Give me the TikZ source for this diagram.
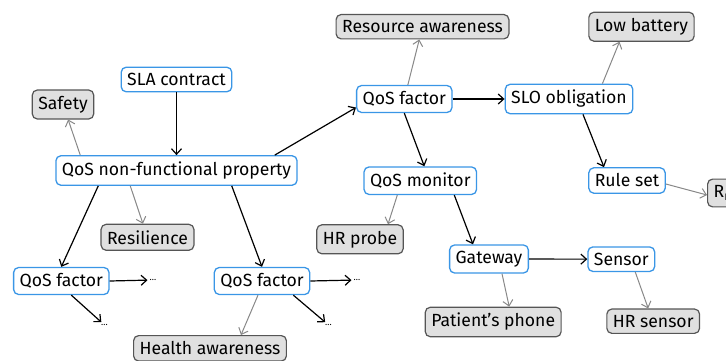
\documentclass[tikz,border=0pt]{standalone}
\usepackage{fontspec}
\setmainfont{Fira Sans}
\usepackage{tikz}
\usetikzlibrary{arrows.meta}
\definecolor{cBlue}{HTML}{3A96E6}
\definecolor{cAttr}{HTML}{E0E0E0}
\definecolor{cDark}{HTML}{555555}
\definecolor{cEdge}{HTML}{888888}
\tikzset{
  concept/.style={rounded corners=5pt, draw=cBlue, line width=1.3pt, fill=white,
                  text=black, font=\fontsize{17.6}{21}\selectfont, inner sep=6pt},
  attr/.style={rounded corners=5pt, draw=cDark, line width=1.2pt, fill=cAttr,
               text=black, font=\fontsize{17.6}{21}\selectfont, inner sep=6pt},
  etc/.style={font=\fontsize{9}{10}\selectfont, inner sep=2pt},
  flow/.style={-{Straight Barb[length=5.5pt,width=10pt]}, line width=1.2pt, draw=black},
  soft/.style={-{Straight Barb[length=5.5pt,width=10pt]}, line width=1pt, draw=cEdge},
}
\begin{document}
\begin{tikzpicture}[x=1pt, y=-1pt]
  \useasboundingbox (0,0) rectangle (726,361);
  \clip (0,0) rectangle (726,361);
  % concepts
  \node[concept] (sla) at (176.5,79.5) {SLA contract};
  \node[concept] (nfp) at (176.5,170.5) {QoS non-functional property};
  \node[concept] (qfa) at (61.3,281) {QoS factor};
  \node[concept] (qfb) at (262,281) {QoS factor};
  \node[concept] (qf1) at (404.3,99) {QoS factor};
  \node[concept] (slo) at (569,99) {SLO obligation};
  \node[concept] (qm) at (420.3,180.7) {QoS monitor};
  \node[concept] (rule) at (627,180.5) {Rule set};
  \node[concept] (gw) at (489,259) {Gateway};
  \node[concept] (sensor) at (621.3,259.2) {Sensor};
  % attributes
  \node[attr] (safety) at (63,104.5) {Safety};
  \node[attr] (resil) at (147.5,237.3) {Resilience};
  \node[attr, anchor=north] (health) at (210,335) {Health awareness};
  \node[attr] (res) at (422.5,26.7) {Resource awareness};
  \node[attr] (low) at (641.5,26.7) {Low battery};
  \node[attr, anchor=west] (rmin) at (707,193) {R\textsubscript{min}};
  \node[attr] (hrp) at (360,239.3) {HR probe};
  \node[attr] (phone) at (493.2,322) {Patient’s phone};
  \node[attr] (hrs) at (653.2,321.2) {HR sensor};
  % continuations
  \node[etc] (da1) at (153,280) {…};
  \node[etc] (da2) at (104.5,325) {…};
  \node[etc] (db1) at (357,280) {…};
  \node[etc] (db2) at (328.5,325) {…};
  % links
  \draw[flow] (sla) -- (nfp);
  \draw[soft] ([xshift=25pt]nfp.north west) -- (safety);
  \draw[flow] ([xshift=-23pt]nfp.north east) -- (qf1.190);
  \draw[flow] ([xshift=43pt]nfp.south west) -- (qfa.north);
  \draw[soft] ([xshift=75pt]nfp.south west) -- (resil);
  \draw[flow] ([xshift=-66pt]nfp.south east) -- (qfb.north);
  \draw[flow] (qfa.east) -- (da1);
  \draw[flow] ([xshift=10pt]qfa.south) -- (da2);
  \draw[flow] (qfb.east) -- (db1);
  \draw[flow] ([xshift=-17pt]qfb.south east) -- (db2);
  \draw[soft] ([xshift=-4pt]qfb.south) -- ([xshift=31pt]health.north);
  \draw[soft] (qf1) -- (res);
  \draw[flow] (qf1) -- (slo);
  \draw[flow] (qf1.south) -- ([xshift=4pt]qm.north);
  \draw[soft] ([xshift=-31pt]slo.north east) -- ([xshift=-22pt]low.south);
  \draw[flow] ([xshift=14pt]slo.south) -- ([xshift=-23pt]rule.north);
  \draw[soft] ([yshift=-3.5pt]rule.east) -- ([yshift=-2pt]rmin.west);
  \draw[soft] ([xshift=-23pt]qm.south) -- ([xshift=28pt]hrp.north);
  \draw[flow] ([xshift=34pt]qm.south) -- ([xshift=-16pt]gw.north);
  \draw[flow] (gw) -- (sensor);
  \draw[soft] ([xshift=13pt]gw.south) -- ([xshift=16pt]phone.north);
  \draw[soft] ([xshift=14pt]sensor.south) -- ([xshift=-5pt]hrs.north);
\end{tikzpicture}
\end{document}
